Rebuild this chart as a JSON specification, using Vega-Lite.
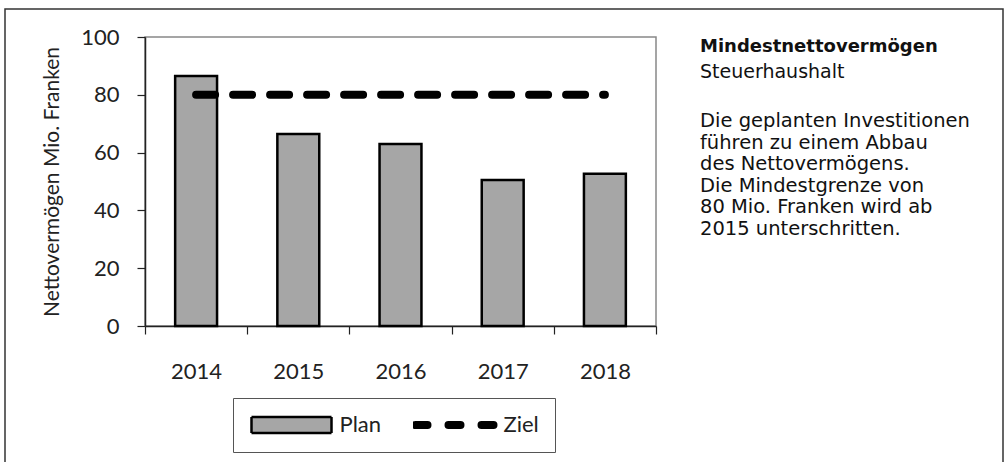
{
  "$schema": "https://vega.github.io/schema/vega-lite/v6.json",
  "width": 511,
  "height": 289,
  "autosize": {"type": "none"},
  "padding": {"left": 145, "top": 37, "right": 352, "bottom": 136},
  "background": "white",
  "config": {
    "view": {"stroke": "#888", "strokeWidth": 1.5},
    "font": "Lato",
    "axis": {
      "labelFont": "Lato", "titleFont": "Lato", "labelColor": "#222", "titleColor": "#222",
      "domainColor": "#222", "tickColor": "#222", "domainWidth": 1.5, "tickWidth": 1.2,
      "grid": false
    }
  },
  "data": {
    "values": [
      {"year": "2014", "series": "Plan", "value": 86.5},
      {"year": "2015", "series": "Plan", "value": 66.4},
      {"year": "2016", "series": "Plan", "value": 63.0},
      {"year": "2017", "series": "Plan", "value": 50.5},
      {"year": "2018", "series": "Plan", "value": 52.7},
      {"year": "2014", "series": "Ziel", "value": 80},
      {"year": "2015", "series": "Ziel", "value": 80},
      {"year": "2016", "series": "Ziel", "value": 80},
      {"year": "2017", "series": "Ziel", "value": 80},
      {"year": "2018", "series": "Ziel", "value": 80}
    ]
  },
  "encoding": {
    "x": {
      "field": "year", "type": "nominal",
      "scale": {"paddingInner": 0, "paddingOuter": 0},
      "axis": {"title": null, "labelAngle": 0, "labelFontSize": 22, "labelPadding": 27, "tickSize": 8, "tickBand": "extent"}
    },
    "y": {
      "field": "value", "type": "quantitative",
      "scale": {"domain": [0, 100], "nice": false},
      "axis": {"title": "Nettovermögen Mio. Franken", "titleFontSize": 21, "titleFontWeight": "normal", "titlePadding": 18, "labelFontSize": 22, "labelPadding": 18, "tickSize": 8, "values": [0, 20, 40, 60, 80, 100]}
    },
    "stroke": {
      "field": "series", "type": "nominal",
      "scale": {"domain": ["Plan", "Ziel"], "range": ["#000000", "#000000"]},
      "legend": {
        "title": null, "orient": "none", "legendX": 88, "legendY": 361,
        "direction": "horizontal", "strokeColor": "#555", "padding": 16, "clipHeight": 22,
        "labelFont": "Lato", "labelFontSize": 22, "labelColor": "#222", "labelOffset": 37,
        "symbolOffset": 31.5, "columnPadding": 31,
        "encode": {
          "symbols": {
            "update": {
              "size": {"value": 6400},
              "shape": {"signal": "datum.value === 'Plan' ? 'M-1,-0.2H1V0.2H-1Z' : 'M-1,0H1'"},
              "fill": {"signal": "datum.value === 'Plan' ? '#a6a6a6' : 'transparent'"},
              "stroke": {"value": "#000"},
              "strokeWidth": {"signal": "datum.value === 'Plan' ? 2.5 : 8"},
              "strokeDash": {"signal": "datum.value === 'Plan' ? [1, 0] : [12, 21]"},
              "strokeCap": {"signal": "datum.value === 'Plan' ? 'butt' : 'round'"},
              "opacity": {"value": 1}
            }
          }
        }
      }
    }
  },
  "layer": [
    {
      "transform": [{"filter": "datum.series === 'Plan'"}],
      "mark": {"type": "bar", "width": {"band": 0.41}, "fill": "#a6a6a6", "strokeWidth": 2.5, "opacity": 1}
    },
    {
      "transform": [{"filter": "datum.series === 'Ziel'"}],
      "mark": {"type": "line", "strokeWidth": 8, "strokeDash": [19, 18], "strokeCap": "round"}
    },
    {
      "data": {"values": [{}]},
      "mark": {"type": "rect", "fill": null, "stroke": "#333", "strokeWidth": 1.5},
      "encoding": {"x": {"value": -140}, "x2": {"value": 858}, "y": {"value": -28}, "y2": {"value": 440}, "stroke": null}
    },
    {
      "data": {"values": [{}]},
      "mark": {"type": "text", "text": "Mindestnettovermögen", "font": "DejaVu Sans", "fontSize": 18, "fontWeight": "bold", "align": "left", "baseline": "middle", "color": "#111"},
      "encoding": {"x": {"value": 555}, "y": {"value": 10}, "stroke": null}
    },
    {
      "data": {"values": [{}]},
      "mark": {"type": "text", "text": "Steuerhaushalt", "font": "DejaVu Sans", "fontSize": 19, "align": "left", "baseline": "middle", "color": "#111"},
      "encoding": {"x": {"value": 555}, "y": {"value": 35}, "stroke": null}
    },
    {
      "data": {"values": [{}]},
      "mark": {"type": "text", "text": ["Die geplanten Investitionen", "führen zu einem Abbau", "des Nettovermögens.", "Die Mindestgrenze von", "80 Mio. Franken wird ab", "2015 unterschritten."], "font": "DejaVu Sans", "fontSize": 19.5, "lineHeight": 21.6, "align": "left", "baseline": "middle", "color": "#111"},
      "encoding": {"x": {"value": 555}, "y": {"value": 84}, "stroke": null}
    }
  ]
}
